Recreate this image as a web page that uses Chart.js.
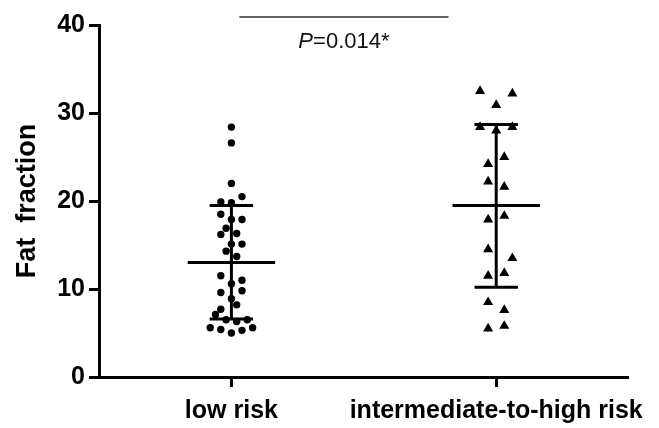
<!DOCTYPE html>
<html>
<head>
<meta charset="utf-8">
<script src="https://cdn.jsdelivr.net/npm/chart.js"></script>
<style>
  html, body { margin: 0; padding: 0; background: #fff; }
  #wrap { width: 659px; height: 428px; }
</style>
</head>
<body>
<div id="wrap"><canvas id="fatChart"></canvas></div>
<script>
// groups
const groupNames = ["low risk", "intermediate-to-high risk"];
const groupX = [1, 2];

// values (fat fraction), with their column slot in the swarm
const lowValues = [28.4, 26.6, 22.0, 20.5, 19.9, 19.8, 18.5, 17.9, 17.9, 16.9, 16.2, 16.3,
  15.1, 15.1, 14.3, 13.7, 11.5, 11.0, 10.6, 9.8, 9.6, 8.9, 8.2, 7.7, 7.1, 6.5, 6.3, 6.5,
  5.6, 5.4, 5.0, 5.3, 5.6];
const lowSlot = [0, 0, 0, 2, -2, 0, -2, 0, 2, -1, -2, 1,
  0, 2, -1, 1, -2, 2, 0, 2, -2, 0, 1, -2, -3, -1, 1, 3,
  -4, -2, 0, 2, 4];

const highValues = [32.5, 32.2, 30.9, 28.4, 28.4, 28.0, 25.0, 24.2, 22.2, 21.6, 17.9, 18.3,
  14.5, 13.5, 11.5, 11.8, 8.5, 7.6, 5.5, 5.8];
const highSlot = [-2, 2, 0, -2, 2, 0, 1, -1, -1, 1, -1, 1,
  -1, 2, -1, 1, -1, 1, -1, 1];

// mean and SD bars as drawn
const means = [13.0, 19.5];
const sdLow = [6.6, 10.2];
const sdHigh = [19.5, 28.7];

// significance bracket
const sigText = ["P", "=0.014*"];
const sigFrom = 1.03, sigTo = 1.82, sigY = 40.9, sigTextY = 38.1;

const yTicks = [0, 10, 20, 30, 40];

const swarm = (vals, slots, gx, step) =>
  vals.map((v, i) => ({ x: gx + slots[i] * step, y: v }));

function bar(gx, y, half) {
  return {
    type: "line",
    data: [{ x: gx - half, y: y }, { x: gx + half, y: y }],
    borderColor: "#000",
    borderWidth: 3,
    pointRadius: 0,
    order: 0,
  };
}

const lineSets = [];
groupX.forEach((gx, i) => {
  lineSets.push(bar(gx, means[i], 0.165));
  lineSets.push(bar(gx, sdLow[i], 0.082));
  lineSets.push(bar(gx, sdHigh[i], 0.082));
  lineSets.push({
    type: "line",
    data: [{ x: gx, y: sdLow[i] }, { x: gx, y: sdHigh[i] }],
    borderColor: "#000",
    borderWidth: 3,
    pointRadius: 0,
    order: 0,
  });
});

const sigLabel = {
  id: "sigLabel",
  afterDatasetsDraw(chart) {
    const { ctx, scales } = chart;
    const cx = scales.x.getPixelForValue((sigFrom + sigTo) / 2);
    const cy = scales.y.getPixelForValue(sigTextY);
    ctx.save();
    ctx.fillStyle = "#111";
    ctx.textBaseline = "middle";
    ctx.font = "italic 22px 'Liberation Sans', Arial, sans-serif";
    const w1 = ctx.measureText(sigText[0]).width;
    ctx.font = "22px 'Liberation Sans', Arial, sans-serif";
    const w2 = ctx.measureText(sigText[1]).width;
    let x0 = cx - (w1 + w2) / 2;
    ctx.font = "italic 22px 'Liberation Sans', Arial, sans-serif";
    ctx.fillText(sigText[0], x0, cy);
    ctx.font = "22px 'Liberation Sans', Arial, sans-serif";
    ctx.fillText(sigText[1], x0 + w1, cy);
    ctx.restore();
  },
};

new Chart(document.getElementById("fatChart"), {
  type: "scatter",
  data: {
    datasets: [
      ...lineSets,
      {
        type: "line",
        data: [{ x: sigFrom, y: sigY }, { x: sigTo, y: sigY }],
        borderColor: "#333",
        borderWidth: 1.5,
        pointRadius: 0,
        clip: false,
        order: 0,
      },
      {
        data: swarm(lowValues, lowSlot, groupX[0], 0.02),
        pointStyle: "circle",
        pointRadius: 3.7,
        backgroundColor: "#000",
        borderWidth: 0,
        order: 1,
      },
      {
        data: swarm(highValues, highSlot, groupX[1], 0.0305),
        pointStyle: "triangle",
        pointRadius: 5.8,
        backgroundColor: "#000",
        borderWidth: 0,
        order: 1,
      },
    ],
  },
  options: {
    responsive: true,
    maintainAspectRatio: false,
    animation: false,
    layout: { padding: { top: 25, right: 29, left: 0, bottom: 0 } },
    plugins: { legend: { display: false }, tooltip: { enabled: false } },
    scales: {
      x: {
        type: "linear",
        min: 0.5,
        max: 2.5,
        afterBuildTicks: (axis) => {
          axis.ticks = groupX.map((v) => ({ value: v }));
        },
        afterFit: (axis) => { axis.height = 51; },
        border: { display: true, color: "#000", width: 3 },
        grid: { drawOnChartArea: false, drawTicks: true, tickLength: 10, tickWidth: 3, tickColor: "#000" },
        ticks: {
          color: "#000",
          padding: 9,
          maxRotation: 0,
          autoSkip: false,
          font: { family: "'Liberation Sans', Arial, sans-serif", size: 25, weight: "bold" },
          callback: (v) => groupNames[groupX.indexOf(v)],
        },
      },
      y: {
        min: 0,
        max: 40,
        afterBuildTicks: (axis) => {
          axis.ticks = yTicks.map((v) => ({ value: v }));
        },
        afterFit: (axis) => { axis.width = 99; },
        border: { display: true, color: "#000", width: 3 },
        grid: { drawOnChartArea: false, drawTicks: true, tickLength: 10, tickWidth: 3, tickColor: "#000" },
        ticks: {
          color: "#000",
          padding: 4,
          font: { family: "'Liberation Sans', Arial, sans-serif", size: 25, weight: "bold" },
        },
        title: {
          display: true,
          text: "Fat  fraction",
          color: "#000",
          padding: { top: 11, bottom: 0 },
          font: { family: "'Liberation Sans', Arial, sans-serif", size: 27, weight: "bold" },
        },
      },
    },
  },
  plugins: [sigLabel],
});
</script>
</body>
</html>
